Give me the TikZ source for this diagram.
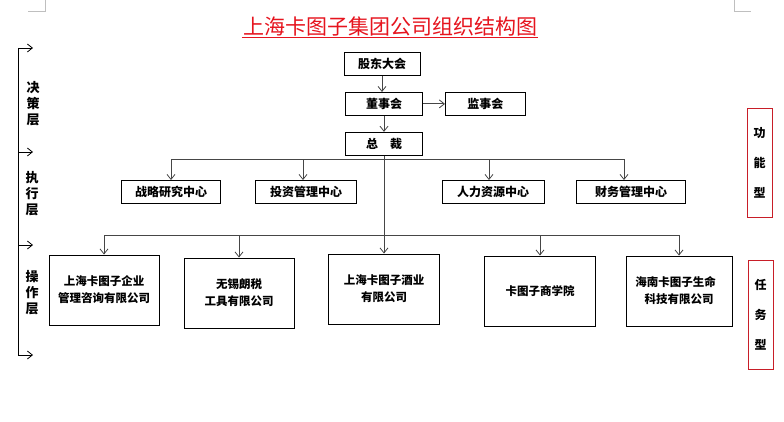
\documentclass[tikz,border=0pt]{standalone}
\usepackage{fontspec}
\setmainfont{Noto Sans CJK SC}
\usetikzlibrary{shapes,arrows,arrows.meta}
\usetikzlibrary{positioning}
\definecolor{myred}{RGB}{230,20,30}
\definecolor{boxred}{RGB}{200,30,40}
\definecolor{linegray}{RGB}{70,70,70}
\newcommand\orgnode[4][]{%
  \node[orgbox,#1,minimum width=#2pt] (#3) {#4};
}

\begin{document}
\begin{tikzpicture}[x=1pt, y=-1pt,
>={Straight Barb[length=5pt,width=8pt]},
node distance=16pt,
orgbox/.style={
  draw,
  line width=0.9pt,
  minimum height=23pt,
  inner sep=2pt,
  align=center,
  font=\fontsize{12}{16}\selectfont\bfseries},
bigbox/.style={
  orgbox,
  minimum height=70pt,
  font=\fontsize{11.5}{17}\selectfont\bfseries},
link/.style={->, draw=linegray, line width=0.8pt},
sidebox/.style={
  draw=boxred,
  line width=0.9pt,
  minimum width=25pt,
  minimum height=109pt,
  inner sep=0pt,
  align=center,
  font=\fontsize{12}{30}\selectfont\bfseries},
layer/.style={
  align=center,
  inner sep=0pt,
  font=\fontsize{13}{16}\selectfont\bfseries}
]
\useasboundingbox[fill=white] (0,0) rectangle (784,422);
\draw[gray!50] (45,0) -- (45,11) -- (28,11);
\draw[gray!50] (734,0) -- (734,11) -- (751,11);

\node[font=\fontsize{21}{24}\selectfont, text=myred, inner sep=1pt] (title) at (390,27) {上海卡图子集团公司组织结构图};
\draw[myred, line width=1pt] (title.south west) -- (title.south east);

\orgnode[at={(382,64)}]{76}{gudong}{股东大会}
\orgnode[below=of gudong, xshift=2pt]{77}{dongshi}{董事会}
\orgnode[right=22pt of dongshi]{80}{jianshi}{监事会}
\orgnode[below=of dongshi]{77}{zongcai}{总\quad 裁}

\orgnode[at={(171,192)}]{99}{zhanlue}{战略研究中心}
\orgnode[at={(306,192)}]{101}{touzi}{投资管理中心}
\orgnode[at={(493,192)}]{102}{renli}{人力资源中心}
\orgnode[at={(631,192)}]{109}{caiwu}{财务管理中心}

\orgnode[bigbox, at={(104,290)}]{110}{qiye}{上海卡图子企业\\管理咨询有限公司}
\orgnode[bigbox, at={(239,293)}]{110}{shuiwu}{无锡朗税\\工具有限公司}
\orgnode[bigbox, at={(384,289)}]{111}{jiuye}{上海卡图子酒业\\有限公司}
\orgnode[bigbox, at={(540,291)}]{111}{shangxue}{卡图子商学院}
\orgnode[bigbox, at={(679,291)}]{106}{shengming}{海南卡图子生命\hspace*{0.6em}\\科技有限公司}

% top chain
\draw[link] (gudong.south) -- (gudong.south |- dongshi.north);
\draw[link] (dongshi.south) -- (zongcai.north);
\draw[link] (dongshi) -- (jianshi);

% buses
\coordinate (busA) at ([yshift=-4pt]zongcai.south);
\coordinate (busB) at ([yshift=18pt]jiuye.north);
\draw[draw=linegray, line width=0.8pt] (zongcai.south) -- (busB);
\draw[link] (busA) -| (zhanlue.north);
\draw[link] (busA) -| ([xshift=-3pt]touzi.north);
\draw[link] (busA) -| ([xshift=-4pt]renli.north);
\draw[link] (busA) -| ([xshift=-7pt]caiwu.north);
\foreach \t in {qiye,shuiwu,shangxue,shengming}
  \draw[link] (busB) -| (\t.north);
\draw[link] (busB) -- (jiuye.north);

% layers
\coordinate (axtop) at (18,48);
\coordinate (axbot) at (18,355);
\draw[line width=0.8pt] (axtop) -- (axbot);
\foreach \y [count=\i] in {48,152,245,355} {
  \coordinate (tick\i) at (18,\y);
  \coordinate (tip\i) at (33,\y);
  \draw[->, line width=0.8pt] (tick\i) -- (tip\i);
}
\node[layer] (juece) at (33,104) {决\\策\\层};
\node[layer] (zhixing) at (32,194) {执\\行\\层};
\node[layer] (caozuo) at (32,293) {操\\作\\层};

\node[sidebox] (gongneng) at (759.5,162.5) {功\\能\\型};
\node[sidebox] (renwu) at (760.5,315) {任\\务\\型};

\end{tikzpicture}
\end{document}
